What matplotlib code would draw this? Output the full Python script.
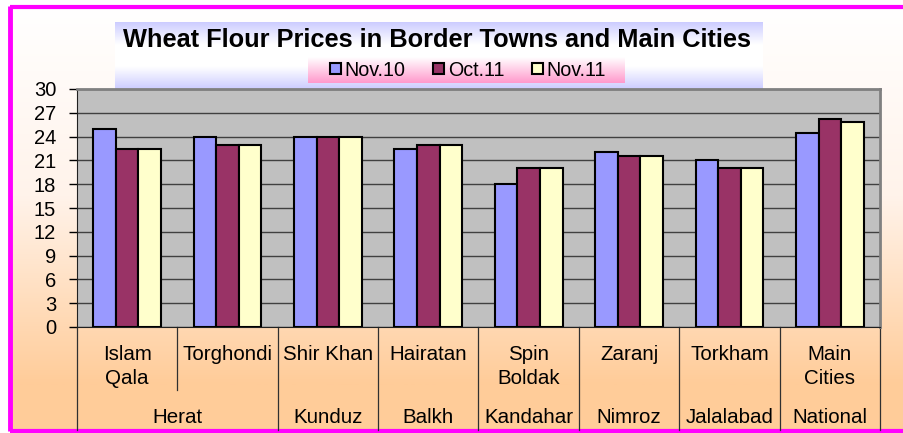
import numpy as np
import matplotlib.pyplot as plt
from matplotlib.colors import LinearSegmentedColormap

plt.rcParams['font.family'] = ['Liberation Sans', 'DejaVu Sans']

# data
towns = [['Islam', 'Qala'], ['Torghondi'], ['Shir Khan'], ['Hairatan'],
         ['Spin', 'Boldak'], ['Zaranj'], ['Torkham'], ['Main', 'Cities']]
provinces = ['Herat', 'Kunduz', 'Balkh', 'Kandahar', 'Nimroz', 'Jalalabad', 'National']
prov_span = [(0, 1), (2, 2), (3, 3), (4, 4), (5, 5), (6, 6), (7, 7)]
series = ['Nov.10', 'Oct.11', 'Nov.11']
nov10 = [25, 24, 24, 22.5, 18, 22, 21, 24.5]
oct11 = [22.5, 23, 24, 23, 20, 21.5, 20, 26.2]
nov11 = [22.5, 23, 24, 23, 20, 21.5, 20, 25.8]
colors = ['#9999FF', '#993366', '#FFFFCC']
yticks = np.arange(0, 31, 3)

W, H = 904, 433
fig = plt.figure(figsize=(W / 100, H / 100), dpi=100)

# background in pixel coords
bg = fig.add_axes([0, 0, 1, 1], zorder=-5)
bg.set_xlim(0, W)
bg.set_ylim(H, 0)
bg.axis('off')

peach = LinearSegmentedColormap.from_list('p', ['#FFFFFF', '#FFF3EA', '#FFCC99'])
g = np.linspace(0, 1, 256).reshape(-1, 1)
bg.imshow(g, cmap=peach, aspect='auto', extent=[10, W, 385, 8], zorder=0)
bg.fill_between([10, W], 385, 430, color='#FFCC99', zorder=0)

# magenta frame
bg.plot([10, W], [7, 7], color='#FF00FF', lw=3, solid_capstyle='butt')
bg.plot([10, 10], [6, 431], color='#FF00FF', lw=3.5, solid_capstyle='butt')
bg.plot([10, W], [430.5, 430.5], color='#FF00FF', lw=3, solid_capstyle='butt')

# title box and legend box
lav = LinearSegmentedColormap.from_list('l', ['#CCCCFF', '#FFFFFF', '#FFFFFF', '#CCCCFF'])
bg.imshow(g, cmap=lav, aspect='auto', extent=[115, 763, 89, 22], zorder=2)
pink = LinearSegmentedColormap.from_list('k', ['#FFFFFF', '#FF99CC'])
bg.imshow(g, cmap=pink, aspect='auto', extent=[308, 625, 83, 57], zorder=3)
bg.text(437, 40, 'Wheat Flour Prices in Border Towns and Main Cities',
        ha='center', va='center', fontsize=18.3, fontweight='bold', zorder=4)

# main plot
ax = fig.add_axes([77 / W, 1 - 327 / H, 803 / W, 238 / H])
ax.set_facecolor('#C0C0C0')
x = np.arange(len(towns))
bw = 0.225
for i, (vals, c, name) in enumerate(zip([nov10, oct11, nov11], colors, series)):
    ax.bar(x + (i - 1) * bw, vals, bw, color=c, edgecolor='black', lw=1.5,
           label=name, zorder=3)

ax.set_xlim(-0.5, len(towns) - 0.5)
ax.set_ylim(0, 30)
ax.set_yticks(yticks)
ax.tick_params(axis='y', length=6, width=1, pad=9, labelsize=14.5)
ax.set_xticks([])
ax.grid(axis='y', color='#404040', lw=1, zorder=1)
for s in ['top', 'right']:
    ax.spines[s].set_color('#808080')
    ax.spines[s].set_linewidth(2)
ax.spines['left'].set_color('#202020')
ax.spines['bottom'].set_color('#202020')

# two level category axis
tr = ax.get_xaxis_transform()
px = 1 / 238.0
for b in np.arange(-0.5, len(towns), 1.0):
    bottom = -(390 - 327) * px if b == 0.5 else -(430 - 327) * px
    ax.plot([b, b], [0, bottom], color='#303030', lw=0.9, transform=tr, clip_on=False)
for i, lines in enumerate(towns):
    for j, t in enumerate(lines):
        ax.text(i, -(360 + 24 * j - 327) * px, t, transform=tr, ha='center',
                va='baseline', fontsize=14.8)
for name, (a, b) in zip(provinces, prov_span):
    ax.text((a + b) / 2, -(423 - 327) * px, name, transform=tr, ha='center',
            va='baseline', fontsize=14.8)

leg = ax.legend(ncol=3, loc='center', bbox_to_anchor=(468 / W, 1 - 70 / H),
                bbox_transform=fig.transFigure, frameon=False, fontsize=14.2,
                handlelength=0.55, handleheight=0.55, handletextpad=0.2,
                columnspacing=1.4, borderpad=0)
leg.set_zorder(10)

fig.savefig('out.png', dpi=100)
